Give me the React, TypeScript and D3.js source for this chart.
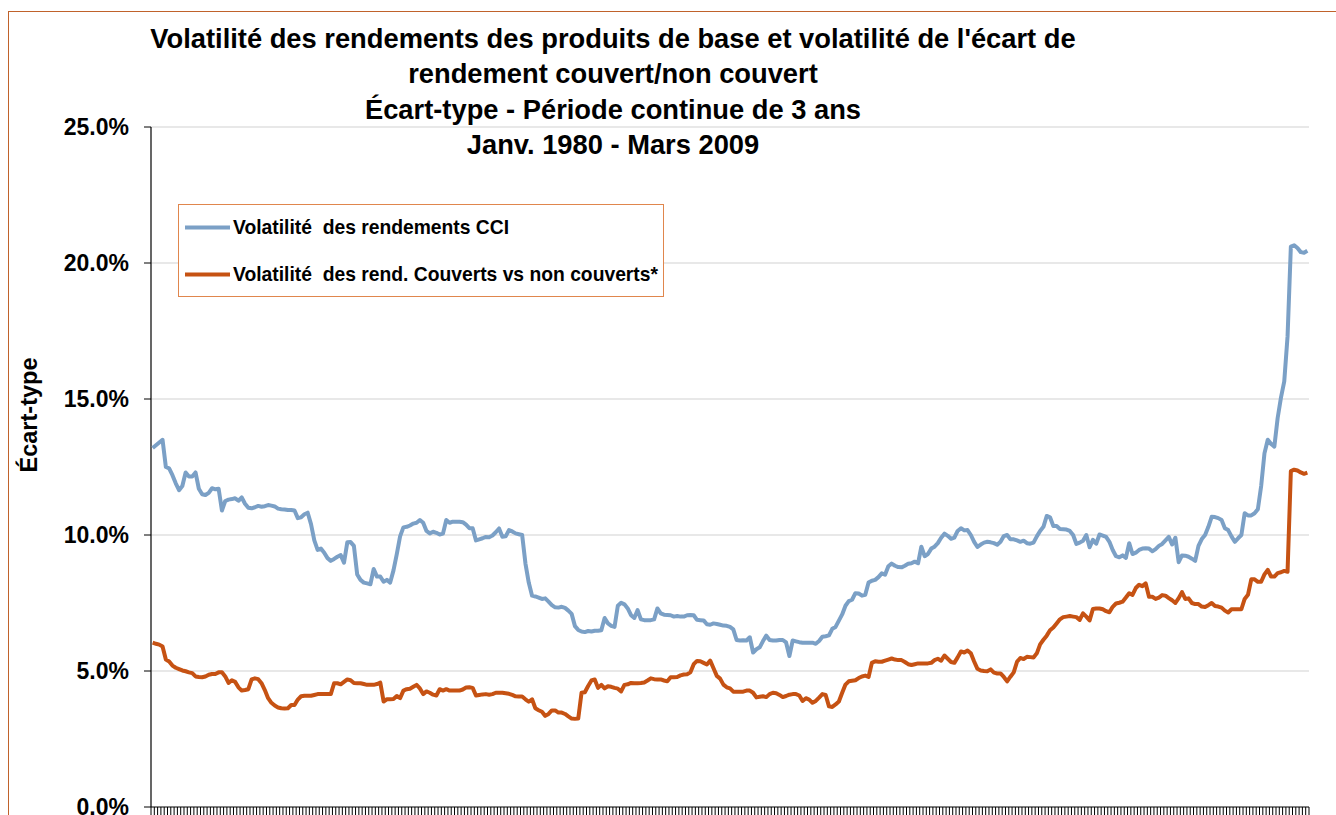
import * as d3 from 'd3';

// monthly categories, Jan 1980 - Mar 2009
const months: Date[] = d3.timeMonth.range(new Date(1980, 0, 1), new Date(2009, 3, 1));

const yTicks = [0, 5, 10, 15, 20, 25];

const titleLines = [
  "Volatilité des rendements des produits de base et volatilité de l'écart de",
  'rendement couvert/non couvert',
  'Écart-type - Période continue de 3 ans',
  'Janv. 1980 - Mars 2009',
];

const seriesNames = [
  'Volatilité  des rendements CCI',
  'Volatilité  des rend. Couverts vs non couverts*',
];

// Volatilité des rendements CCI (%)
const cciVol = [
  13.2, 13.3, 13.4, 13.5, 12.5, 12.45, 12.2, 11.9, 11.65, 11.8,
  12.3, 12.15, 12.15, 12.3, 11.7, 11.5, 11.47, 11.55, 11.72, 11.68,
  11.7, 10.9, 11.25, 11.3, 11.32, 11.35, 11.26, 11.38, 11.15, 11.0,
  10.98, 11.02, 11.07, 11.04, 11.06, 11.1, 11.08, 11.05, 10.97, 10.95,
  10.94, 10.92, 10.92, 10.9, 10.62, 10.65, 10.76, 10.82, 10.4, 9.8,
  9.45, 9.5, 9.35, 9.15, 9.05, 9.12, 9.2, 9.26, 8.98, 9.73,
  9.74, 9.6, 8.55, 8.35, 8.25, 8.22, 8.19, 8.75, 8.47, 8.47,
  8.28, 8.35, 8.25, 8.7, 9.3, 9.95, 10.28, 10.3, 10.35, 10.42,
  10.45, 10.55, 10.45, 10.15, 10.06, 10.12, 10.08, 10.02, 10.05, 10.55,
  10.45, 10.49, 10.49, 10.49, 10.47, 10.38, 10.25, 10.25, 9.8, 9.84,
  9.88, 9.93, 9.92, 9.98, 10.1, 10.24, 9.94, 9.95, 10.18, 10.13,
  10.06, 10.03, 10.0, 8.95, 8.25, 7.77, 7.74, 7.7, 7.65, 7.67,
  7.55, 7.42, 7.34, 7.33, 7.36, 7.32, 7.22, 7.1, 6.65, 6.51,
  6.45, 6.43, 6.47, 6.45, 6.48, 6.48, 6.5, 6.95, 6.75, 6.66,
  6.62, 7.4, 7.51, 7.45, 7.3, 7.05, 6.95, 7.24, 6.9, 6.87,
  6.87, 6.87, 6.9, 7.3, 7.12, 7.07, 7.06, 7.05, 7.0, 7.02,
  7.0, 7.0, 7.05, 7.06, 7.05, 6.88, 6.87, 6.86, 6.72, 6.7,
  6.75, 6.73, 6.7, 6.67, 6.66, 6.62, 6.53, 6.14, 6.12, 6.13,
  6.12, 6.24, 5.68, 5.8, 5.87, 6.1, 6.3, 6.14, 6.12, 6.12,
  6.14, 6.14, 6.05, 5.55, 6.12, 6.09, 6.06, 6.04, 6.04, 6.04,
  6.04, 6.0, 6.1, 6.26, 6.28, 6.31, 6.55, 6.62, 6.85, 7.08,
  7.4, 7.57, 7.62, 7.86, 7.85, 7.77, 7.8, 8.25, 8.32, 8.35,
  8.45, 8.59, 8.54, 8.85, 8.95, 8.87, 8.82, 8.81, 8.87, 8.94,
  8.96, 9.02, 8.96, 9.57, 9.22, 9.3, 9.5, 9.57, 9.7, 9.9,
  10.05, 9.97, 9.86, 9.9, 10.15, 10.25, 10.17, 10.18, 10.0, 9.75,
  9.56, 9.65, 9.72, 9.75, 9.73, 9.7, 9.64, 9.75, 9.96, 10.0,
  9.84, 9.84, 9.8, 9.75, 9.79, 9.7, 9.68, 9.72, 9.95, 10.15,
  10.3, 10.7, 10.65, 10.33, 10.33, 10.22, 10.21, 10.2, 10.15, 10.0,
  9.67, 9.72, 9.79, 10.0, 9.55, 9.82, 9.68, 10.02, 9.98, 9.93,
  9.75, 9.45, 9.22, 9.18, 9.25, 9.16, 9.7, 9.3, 9.35, 9.45,
  9.5, 9.51, 9.5, 9.4, 9.48, 9.6, 9.67, 9.8, 9.93, 9.65,
  9.9, 9.0, 9.25, 9.24, 9.2, 9.13, 9.05, 9.6, 9.85, 10.0,
  10.3, 10.67, 10.66, 10.62, 10.55, 10.25, 10.18, 9.95, 9.75, 9.88,
  10.0, 10.8, 10.72, 10.72, 10.8, 10.95, 11.8, 13.0, 13.5, 13.35,
  13.25, 14.3, 15.05, 15.65, 17.3, 20.6, 20.65, 20.55, 20.4, 20.38,
  20.45,
];

// Volatilité des rend. couverts vs non couverts (%)
const hedgeVol = [
  6.04, 6.0, 5.97, 5.9, 5.42, 5.35, 5.2, 5.12, 5.07, 5.02,
  4.99, 4.95, 4.92, 4.8, 4.78, 4.77, 4.8, 4.86, 4.89, 4.89,
  4.95, 4.95, 4.8, 4.56, 4.66, 4.6, 4.4, 4.28, 4.3, 4.33,
  4.69, 4.73, 4.7, 4.55, 4.3, 4.0, 3.83, 3.73, 3.66, 3.63,
  3.62, 3.63, 3.75, 3.75, 3.95, 4.07, 4.09, 4.09, 4.09, 4.12,
  4.15, 4.15, 4.15, 4.15, 4.15, 4.55, 4.55, 4.51, 4.6, 4.69,
  4.66, 4.56, 4.55, 4.55, 4.52, 4.49, 4.49, 4.49, 4.52, 4.57,
  3.88, 3.96, 3.96, 3.97, 4.08, 4.0, 4.28, 4.33, 4.35, 4.42,
  4.49, 4.36, 4.15, 4.25, 4.2, 4.13, 4.1, 4.33, 4.28, 4.33,
  4.28, 4.28, 4.28, 4.28, 4.32, 4.39, 4.4, 4.38, 4.1, 4.12,
  4.14, 4.15, 4.13, 4.15, 4.2, 4.2, 4.2, 4.18, 4.16, 4.12,
  4.07, 4.06, 4.06, 3.96, 3.87, 3.96, 3.63, 3.56, 3.5, 3.35,
  3.42, 3.55, 3.55, 3.47, 3.47, 3.42, 3.33, 3.25, 3.24, 3.25,
  4.2, 4.22, 4.45, 4.65, 4.69, 4.38, 4.49, 4.36, 4.44, 4.42,
  4.38, 4.35, 4.25, 4.49, 4.51, 4.56, 4.55, 4.55, 4.56, 4.58,
  4.65, 4.73, 4.7, 4.69, 4.69, 4.65, 4.62, 4.77, 4.77, 4.78,
  4.84, 4.87, 4.88, 4.95, 5.25, 5.37, 5.36, 5.3, 5.24, 5.38,
  5.1, 4.82, 4.72, 4.5, 4.4, 4.36, 4.24, 4.24, 4.24, 4.24,
  4.28, 4.28, 4.2, 4.03, 4.05, 4.07, 4.04, 4.15, 4.2, 4.18,
  4.12, 4.04, 4.08, 4.13, 4.15, 4.15, 4.1, 3.9, 4.0, 3.95,
  3.83, 3.9, 4.02, 4.15, 4.12, 3.7, 3.68, 3.77, 3.88, 4.2,
  4.5, 4.62, 4.64, 4.66, 4.74, 4.8, 4.83, 4.78, 5.3, 5.36,
  5.34, 5.34, 5.38, 5.42, 5.46, 5.42, 5.4, 5.4, 5.33, 5.25,
  5.22, 5.25, 5.28, 5.28, 5.28, 5.28, 5.3, 5.4, 5.45, 5.38,
  5.57, 5.45, 5.33, 5.3, 5.5, 5.72, 5.68, 5.75, 5.65, 5.35,
  5.08, 5.02, 5.0, 4.99, 5.06, 4.94, 4.91, 4.91, 4.78, 4.62,
  4.79, 4.95, 5.34, 5.48, 5.44, 5.52, 5.51, 5.5, 5.65, 5.98,
  6.15, 6.3, 6.5, 6.6, 6.75, 6.9, 6.98, 7.0, 7.02, 7.0,
  6.98, 6.88, 7.12, 7.0, 6.86, 7.28, 7.3, 7.3, 7.27, 7.2,
  7.16, 7.36, 7.48, 7.51, 7.55, 7.7, 7.86, 7.8, 8.05, 8.17,
  8.12, 8.22, 7.73, 7.73, 7.65, 7.7, 7.79, 7.77, 7.68, 7.6,
  7.5, 7.68, 7.9, 7.65, 7.67, 7.5, 7.46, 7.46, 7.37, 7.35,
  7.42, 7.5, 7.39, 7.37, 7.33, 7.22, 7.15, 7.27, 7.27, 7.27,
  7.27, 7.65, 7.8, 8.37, 8.37, 8.28, 8.28, 8.55, 8.72, 8.47,
  8.47, 8.6, 8.63, 8.68, 8.65, 12.35, 12.4, 12.37, 12.3, 12.25,
  12.29,
];

const COLORS = ['#7BA0C6', '#C65213'];
const FONT = '"Liberation Sans", Arial, sans-serif';

export default function App() {
  const width = 1336;
  const height = 815;
  const plot = { left: 151, right: 1309, top: 127, bottom: 807 };

  const x = d3.scaleBand<number>()
    .domain(months.map((_, i) => i))
    .range([plot.left, plot.right]);
  const y = d3.scaleLinear().domain([0, 25]).range([plot.bottom, plot.top]);

  const line = d3.line<number>()
    .x((_, i) => (x(i) || 0) + x.bandwidth() / 2)
    .y(d => y(d));

  const boundaries = d3.range(months.length + 1).map(i => plot.left + i * x.step());

  return (
    <svg width={width} height={height} style={{ position: 'absolute', left: 0, top: 0, background: '#fff' }}
      fontFamily={FONT} fontWeight="bold">
      <rect x={0} y={0} width={width} height={height} fill="#fff" />
      {/* chart area border */}
      <rect x={8.5} y={11.5} width={width + 20} height={height + 20} fill="none" stroke="#C0622B" strokeWidth={1} />

      {/* title */}
      {titleLines.map((t, i) => (
        <text key={i} x={613} y={48 + i * 35.3} textAnchor="middle" fontSize={27.3} fill="#000">{t}</text>
      ))}

      {/* grid lines */}
      {yTicks.filter(t => t > 0).map(t => (
        <line key={t} x1={plot.left} x2={plot.right} y1={y(t)} y2={y(t)} stroke="#D2D2D2" strokeWidth={1.2} />
      ))}

      {/* y axis */}
      <line x1={plot.left} x2={plot.left} y1={plot.top} y2={plot.bottom} stroke="#000" strokeWidth={1.2} />
      {yTicks.map(t => (
        <g key={t}>
          <line x1={plot.left - 7} x2={plot.left} y1={y(t)} y2={y(t)} stroke="#000" strokeWidth={1} />
          <text x={129} y={y(t)} dy="0.36em" textAnchor="end" fontSize={23} fill="#000">{t.toFixed(1)}%</text>
        </g>
      ))}
      <text transform="translate(37,415) rotate(-90)" textAnchor="middle" fontSize={23.5} fill="#000">Écart-type</text>

      {/* x axis */}
      <line x1={plot.left} x2={plot.right} y1={plot.bottom} y2={plot.bottom} stroke="#000" strokeWidth={1.2} />
      {boundaries.map((bx, i) => (
        <line key={i} x1={bx} x2={bx} y1={plot.bottom} y2={plot.bottom + 8} stroke="#000" strokeWidth={1} />
      ))}

      {/* series */}
      <path d={line(cciVol) || ''} fill="none" stroke={COLORS[0]} strokeWidth={4} strokeLinejoin="round" />
      <path d={line(hedgeVol) || ''} fill="none" stroke={COLORS[1]} strokeWidth={4} strokeLinejoin="round" />

      {/* legend */}
      <rect x={178.5} y={204.5} width={485} height={92} fill="#fff" stroke="#E0864D" strokeWidth={1} />
      {seriesNames.map((name, i) => (
        <g key={name}>
          <line x1={185} x2={230} y1={227.5 + i * 47} y2={227.5 + i * 47} stroke={COLORS[i]} strokeWidth={4} />
          <text x={233} y={234 + i * 47} fontSize={19.3} fill="#000" style={{ whiteSpace: 'pre' }}>{name}</text>
        </g>
      ))}
    </svg>
  );
}
